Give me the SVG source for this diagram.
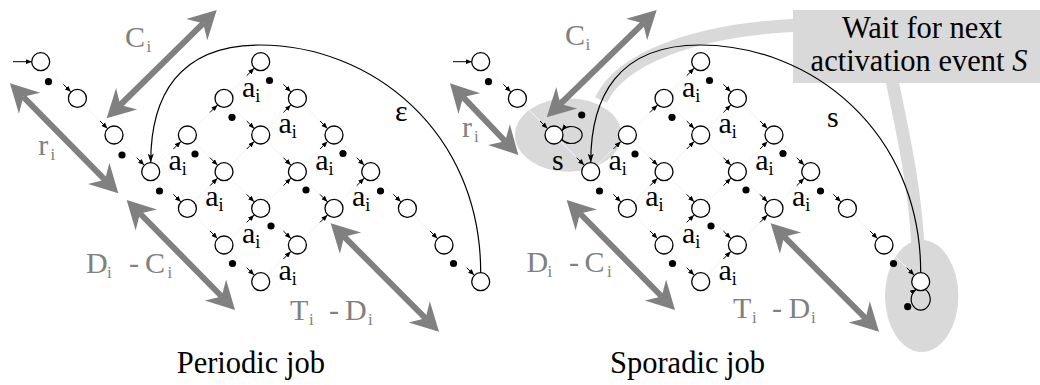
<svg xmlns="http://www.w3.org/2000/svg" width="1040" height="385" viewBox="0 0 1040 385" font-family="'Liberation Serif', 'Times New Roman', serif">
<style>
.st{fill:#fff;stroke:#000;stroke-width:1.3}
.dot{fill:#000}
.edge{stroke:#f2f2f2;stroke-width:1;fill:none}
.stub{stroke:#000;stroke-width:1;fill:none;marker-end:url(#sa)}
.big{stroke:#808080;stroke-width:6;fill:none;marker-start:url(#ga);marker-end:url(#ga)}
.arc{stroke:#000;stroke-width:1.2;fill:none;marker-end:url(#aa)}
.loop{stroke:#000;stroke-width:1.2;fill:none;marker-end:url(#sa)}
.hl{fill:#d9d9d9}
.band{stroke:#d9d9d9;stroke-width:13;fill:none}
.g{fill:#808080;font-size:30px;font-family:'Liberation Serif', 'Times New Roman', serif}
.gs{font-size:17px}
.ls{font-size:18px}
.lab{font-size:30px;fill:#000;font-family:'Liberation Serif', 'Times New Roman', serif}
.cap{font-size:30.5px;fill:#000;font-family:'Liberation Serif', 'Times New Roman', serif}
</style>
<defs>
<marker id="ga" markerUnits="userSpaceOnUse" viewBox="0 0 32 32" markerWidth="32" markerHeight="32" refX="11" refY="16" orient="auto-start-reverse"><path d="M30,16 L2,1 L11,16 L2,31 Z" fill="#808080"/></marker>
<marker id="sa" markerUnits="userSpaceOnUse" viewBox="0 0 6 5" markerWidth="6" markerHeight="5" refX="6" refY="2.5" orient="auto"><path d="M0,0 L6,2.5 L0,5 Z" fill="#000"/></marker>
<marker id="aa" markerUnits="userSpaceOnUse" viewBox="0 0 9 6" markerWidth="9" markerHeight="6" refX="9" refY="3" orient="auto"><path d="M0,0 L9,3 L0,6 L2,3 Z" fill="#000"/></marker>
<g id="dr"><path class="stub" d="M-14,-14 L-6.6,-6.6"/></g>
<g id="ur"><path class="stub" d="M-14,14 L-6.6,6.6"/></g>
</defs>

<g id="highlights">
<ellipse class="hl" cx="568.3" cy="135" rx="53.3" ry="36.7"/>
<ellipse class="hl" cx="921.7" cy="296" rx="36.7" ry="56"/>
<path class="band" d="M601,100 C620,60 690,30 800,25"/>
<path class="band" d="M892,80 C902,130 914,180 918,245"/>
<g id="wait-box">
<rect class="hl" x="793" y="10" width="250" height="73"/>
<text class="cap" x="922" y="38.3" text-anchor="middle">Wait for next</text>
<text class="cap" x="919" y="71" text-anchor="middle">activation event <tspan font-style="italic">S</tspan></text>
</g>
</g>

<g id="connectors">
<path class="edge" d="M40.7,61.7 L150.7,171.7 M370.7,171.7 L480.7,281.7 M150.7,171.7 L260.7,281.7 M187.4,135 L297.4,245 M224,98.4 L334,208.4 M260.7,61.7 L370.7,171.7 M150.7,171.7 L260.7,61.7 M187.4,208.4 L297.4,98.4 M224,245 L334,135 M260.7,281.7 L370.7,171.7"/>
<path class="edge" transform="translate(440,0)" d="M40.7,61.7 L150.7,171.7 M370.7,171.7 L480.7,281.7 M150.7,171.7 L260.7,281.7 M187.4,135 L297.4,245 M224,98.4 L334,208.4 M260.7,61.7 L370.7,171.7 M150.7,171.7 L260.7,61.7 M187.4,208.4 L297.4,98.4 M224,245 L334,135 M260.7,281.7 L370.7,171.7"/>

<path class="big" d="M203.2,23.3 L120.2,105"/>
<path class="big" d="M23.3,96.8 L105,179.8"/>
<path class="big" d="M140,213.5 L221.7,296.5"/>
<path class="big" d="M344.1,236.7 L425.6,318.3"/>
<path class="big" d="M643.1,23.3 L560.3,104"/>
<path class="big" d="M463.1,97.1 L505.2,141.2"/>
<path class="big" d="M580,213.5 L661.7,296.5"/>
<path class="big" d="M784.1,236.7 L865.6,318.3"/>

<path class="arc" d="M480.7,272.7 C480.7,130 370,45 260,45 C178,45 150.7,97 150.7,162.7"/>
<path class="arc" transform="translate(440,0)" d="M480.7,272.7 C480.7,130 370,45 260,45 C178,45 150.7,97 150.7,162.7"/>

<path class="stub" d="M13,61.7 L31.7,61.7"/>
<path class="stub" d="M453,61.7 L471.7,61.7"/>
<g id="stubs-left">
<use href="#dr" x="77.4" y="98.4"/><use href="#dr" x="114" y="135"/><use href="#dr" x="150.7" y="171.7"/>
<use href="#dr" x="187.4" y="208.4"/><use href="#dr" x="224" y="245"/><use href="#dr" x="260.7" y="281.7"/>
<use href="#dr" x="224" y="171.7"/><use href="#dr" x="260.7" y="135"/><use href="#dr" x="297.4" y="98.4"/>
<use href="#dr" x="260.7" y="208.4"/><use href="#dr" x="297.4" y="171.7"/><use href="#dr" x="334" y="135"/>
<use href="#dr" x="297.4" y="245"/><use href="#dr" x="334" y="208.4"/><use href="#dr" x="370.7" y="171.7"/>
<use href="#dr" x="407.4" y="208.4"/><use href="#dr" x="444" y="245"/><use href="#dr" x="480.7" y="281.7"/>
<use href="#ur" x="187.4" y="135"/><use href="#ur" x="224" y="98.4"/><use href="#ur" x="260.7" y="61.7"/>
<use href="#ur" x="224" y="171.7"/><use href="#ur" x="260.7" y="135"/><use href="#ur" x="297.4" y="98.4"/>
<use href="#ur" x="260.7" y="208.4"/><use href="#ur" x="297.4" y="171.7"/><use href="#ur" x="334" y="135"/>
<use href="#ur" x="297.4" y="245"/><use href="#ur" x="334" y="208.4"/><use href="#ur" x="370.7" y="171.7"/>
</g>
<g id="stubs-right" transform="translate(440,0)">
<use href="#dr" x="77.4" y="98.4"/><use href="#dr" x="114" y="135"/><use href="#dr" x="150.7" y="171.7"/>
<use href="#dr" x="187.4" y="208.4"/><use href="#dr" x="224" y="245"/><use href="#dr" x="260.7" y="281.7"/>
<use href="#dr" x="224" y="171.7"/><use href="#dr" x="260.7" y="135"/><use href="#dr" x="297.4" y="98.4"/>
<use href="#dr" x="260.7" y="208.4"/><use href="#dr" x="297.4" y="171.7"/><use href="#dr" x="334" y="135"/>
<use href="#dr" x="297.4" y="245"/><use href="#dr" x="334" y="208.4"/><use href="#dr" x="370.7" y="171.7"/>
<use href="#dr" x="407.4" y="208.4"/><use href="#dr" x="444" y="245"/><use href="#dr" x="480.7" y="281.7"/>
<use href="#ur" x="187.4" y="135"/><use href="#ur" x="224" y="98.4"/><use href="#ur" x="260.7" y="61.7"/>
<use href="#ur" x="224" y="171.7"/><use href="#ur" x="260.7" y="135"/><use href="#ur" x="297.4" y="98.4"/>
<use href="#ur" x="260.7" y="208.4"/><use href="#ur" x="297.4" y="171.7"/><use href="#ur" x="334" y="135"/>
<use href="#ur" x="297.4" y="245"/><use href="#ur" x="334" y="208.4"/><use href="#ur" x="370.7" y="171.7"/>
<path class="loop" d="M121.8,139.5 A11 8.5 0 1 0 121.8,130.5"/>
<path class="loop" d="M485.2,289.5 A9.5 11 0 1 1 476.2,289.5"/>
</g>
</g>

<g id="periodic">
<g id="p-0-0"><circle class="st" cx="40.7" cy="61.7" r="9"/></g>
<g id="p-1-1"><circle class="st" cx="77.4" cy="98.4" r="9"/></g>
<g id="p-2-2"><circle class="st" cx="114" cy="135" r="9"/></g>
<g id="p-3-3"><circle class="st" cx="150.7" cy="171.7" r="9"/></g>
<g id="p-4-2"><circle class="st" cx="187.4" cy="135" r="9"/></g>
<g id="p-5-1"><circle class="st" cx="224" cy="98.4" r="9"/></g>
<g id="p-6-0"><circle class="st" cx="260.7" cy="61.7" r="9"/></g>
<g id="p-4-4"><circle class="st" cx="187.4" cy="208.4" r="9"/></g>
<g id="p-5-3"><circle class="st" cx="224" cy="171.7" r="9"/></g>
<g id="p-6-2"><circle class="st" cx="260.7" cy="135" r="9"/></g>
<g id="p-7-1"><circle class="st" cx="297.4" cy="98.4" r="9"/></g>
<g id="p-5-5"><circle class="st" cx="224" cy="245" r="9"/></g>
<g id="p-6-4"><circle class="st" cx="260.7" cy="208.4" r="9"/></g>
<g id="p-7-3"><circle class="st" cx="297.4" cy="171.7" r="9"/></g>
<g id="p-8-2"><circle class="st" cx="334" cy="135" r="9"/></g>
<g id="p-6-6"><circle class="st" cx="260.7" cy="281.7" r="9"/></g>
<g id="p-7-5"><circle class="st" cx="297.4" cy="245" r="9"/></g>
<g id="p-8-4"><circle class="st" cx="334" cy="208.4" r="9"/></g>
<g id="p-9-3"><circle class="st" cx="370.7" cy="171.7" r="9"/></g>
<g id="p-10-4"><circle class="st" cx="407.4" cy="208.4" r="9"/></g>
<g id="p-11-5"><circle class="st" cx="444" cy="245" r="9"/></g>
<g id="p-12-6"><circle class="st" cx="480.7" cy="281.7" r="9"/></g>
<g id="p-dots" class="dot">
<circle cx="48.5" cy="81.7" r="3.6"/><circle cx="122" cy="155" r="3.6"/><circle cx="159.5" cy="191" r="3.6"/>
<circle cx="195" cy="154" r="3.6"/><circle cx="232" cy="117.3" r="3.6"/><circle cx="269.5" cy="80.5" r="3.6"/>
<circle cx="232.5" cy="263.5" r="3.6"/><circle cx="271" cy="226" r="3.6"/><circle cx="306" cy="190" r="3.6"/>
<circle cx="343" cy="153.5" r="3.6"/><circle cx="380.5" cy="191" r="3.6"/><circle cx="453.5" cy="263.5" r="3.6"/>
</g>
<g id="p-labels">
<text class="lab" x="168.5" y="169.6">a<tspan class="ls" dy="5">i</tspan></text>
<text class="lab" x="242" y="96.5">a<tspan class="ls" dy="5">i</tspan></text>
<text class="lab" x="278.5" y="133.2">a<tspan class="ls" dy="5">i</tspan></text>
<text class="lab" x="315.2" y="169.6">a<tspan class="ls" dy="5">i</tspan></text>
<text class="lab" x="205.2" y="206.3">a<tspan class="ls" dy="5">i</tspan></text>
<text class="lab" x="352" y="206.3">a<tspan class="ls" dy="5">i</tspan></text>
<text class="lab" x="242" y="243">a<tspan class="ls" dy="5">i</tspan></text>
<text class="lab" x="278.5" y="279.7">a<tspan class="ls" dy="5">i</tspan></text>
<text class="lab" x="395" y="121">ε</text>
</g>
</g>

<g id="sporadic" transform="translate(440,0)">
<g id="s-0-0"><circle class="st" cx="40.7" cy="61.7" r="9"/></g>
<g id="s-1-1"><circle class="st" cx="77.4" cy="98.4" r="9"/></g>
<g id="s-2-2"><circle class="st" cx="114" cy="135" r="9"/></g>
<g id="s-3-3"><circle class="st" cx="150.7" cy="171.7" r="9"/></g>
<g id="s-4-2"><circle class="st" cx="187.4" cy="135" r="9"/></g>
<g id="s-5-1"><circle class="st" cx="224" cy="98.4" r="9"/></g>
<g id="s-6-0"><circle class="st" cx="260.7" cy="61.7" r="9"/></g>
<g id="s-4-4"><circle class="st" cx="187.4" cy="208.4" r="9"/></g>
<g id="s-5-3"><circle class="st" cx="224" cy="171.7" r="9"/></g>
<g id="s-6-2"><circle class="st" cx="260.7" cy="135" r="9"/></g>
<g id="s-7-1"><circle class="st" cx="297.4" cy="98.4" r="9"/></g>
<g id="s-5-5"><circle class="st" cx="224" cy="245" r="9"/></g>
<g id="s-6-4"><circle class="st" cx="260.7" cy="208.4" r="9"/></g>
<g id="s-7-3"><circle class="st" cx="297.4" cy="171.7" r="9"/></g>
<g id="s-8-2"><circle class="st" cx="334" cy="135" r="9"/></g>
<g id="s-6-6"><circle class="st" cx="260.7" cy="281.7" r="9"/></g>
<g id="s-7-5"><circle class="st" cx="297.4" cy="245" r="9"/></g>
<g id="s-8-4"><circle class="st" cx="334" cy="208.4" r="9"/></g>
<g id="s-9-3"><circle class="st" cx="370.7" cy="171.7" r="9"/></g>
<g id="s-10-4"><circle class="st" cx="407.4" cy="208.4" r="9"/></g>
<g id="s-11-5"><circle class="st" cx="444" cy="245" r="9"/></g>
<g id="s-12-6"><circle class="st" cx="480.7" cy="281.7" r="9"/></g>
<g id="s-dots" class="dot">
<circle cx="48.5" cy="81.7" r="3.6"/><circle cx="141.7" cy="115" r="3.6"/><circle cx="159.5" cy="191" r="3.6"/>
<circle cx="195" cy="154" r="3.6"/><circle cx="232" cy="117.3" r="3.6"/><circle cx="269.5" cy="80.5" r="3.6"/>
<circle cx="232.5" cy="263.5" r="3.6"/><circle cx="271" cy="226" r="3.6"/><circle cx="306" cy="190" r="3.6"/>
<circle cx="343" cy="153.5" r="3.6"/><circle cx="380.5" cy="191" r="3.6"/><circle cx="453.5" cy="263.5" r="3.6"/>
<circle cx="467.7" cy="306.7" r="3.6"/>
</g>
<g id="s-labels">
<text class="lab" x="168.5" y="169.6">a<tspan class="ls" dy="5">i</tspan></text>
<text class="lab" x="242" y="96.5">a<tspan class="ls" dy="5">i</tspan></text>
<text class="lab" x="278.5" y="133.2">a<tspan class="ls" dy="5">i</tspan></text>
<text class="lab" x="315.2" y="169.6">a<tspan class="ls" dy="5">i</tspan></text>
<text class="lab" x="205.2" y="206.3">a<tspan class="ls" dy="5">i</tspan></text>
<text class="lab" x="352" y="206.3">a<tspan class="ls" dy="5">i</tspan></text>
<text class="lab" x="242" y="243">a<tspan class="ls" dy="5">i</tspan></text>
<text class="lab" x="278.5" y="279.7">a<tspan class="ls" dy="5">i</tspan></text>
<text class="lab" x="112" y="169.5">s</text>
<text class="lab" x="387" y="126.7">s</text>
</g>
</g>

<g id="grey-labels">
<text class="g" x="125" y="46.7">C<tspan class="gs" x="146.5" y="51.5">i</tspan></text>
<text class="g" x="38.3" y="155">r<tspan class="gs" x="50.5" y="160">i</tspan></text>
<text class="g" x="86" y="273.3">D<tspan class="gs" x="107" y="278">i</tspan><tspan x="129" y="273.3">-</tspan><tspan x="145" y="273.3">C</tspan><tspan class="gs" x="167.5" y="278">i</tspan></text>
<text class="g" x="290" y="320">T<tspan class="gs" x="309" y="325">i</tspan><tspan x="329" y="320">-</tspan><tspan x="345" y="320">D</tspan><tspan class="gs" x="368" y="325">i</tspan></text>
<text class="g" x="565" y="45">C<tspan class="gs" x="585.5" y="50">i</tspan></text>
<text class="g" x="462" y="137">r<tspan class="gs" x="474" y="142">i</tspan></text>
<text class="g" x="526.5" y="271.7">D<tspan class="gs" x="547.5" y="276.5">i</tspan><tspan x="569" y="271.7">-</tspan><tspan x="584.5" y="271.7">C</tspan><tspan class="gs" x="607" y="276.5">i</tspan></text>
<text class="g" x="733" y="318">T<tspan class="gs" x="752" y="323">i</tspan><tspan x="772" y="318">-</tspan><tspan x="788.5" y="318">D</tspan><tspan class="gs" x="811" y="323">i</tspan></text>
</g>

<g id="captions">
<text class="cap" x="176.7" y="373.3">Periodic job</text>
<text class="cap" x="610" y="373.3">Sporadic job</text>
</g>
</svg>
